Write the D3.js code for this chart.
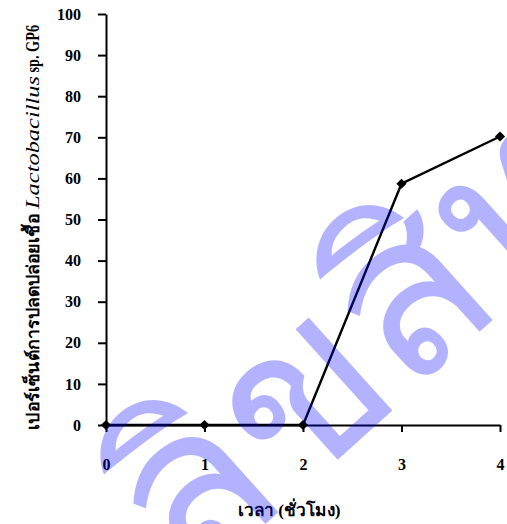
<!DOCTYPE html>
<html lang="th">
<head>
<meta charset="utf-8">
<title>Lactobacillus release</title>
<script src="https://d3js.org/d3.v7.min.js"></script>
<style>
  body { margin: 0; background: #fff; }
</style>
</head>
<body>
<script>
// data
var hours = [0, 1, 2, 3, 4];
var releasePct = [0, 0, 0, 58.7, 70.2];
var yTicks = [0, 10, 20, 30, 40, 50, 60, 70, 80, 90, 100];

var W = 507, H = 524;
var margin = {top: 14, right: 7, bottom: 99, left: 106};
var iw = W - margin.left - margin.right;
var ih = H - margin.top - margin.bottom;
var serif = "'Liberation Serif', 'Times New Roman', serif";

var svg = d3.select("body").append("svg")
    .attr("width", W)
    .attr("height", H);

var g = svg.append("g")
    .attr("transform", "translate(" + margin.left + "," + margin.top + ")");

var x = d3.scaleLinear().domain([0, 4]).range([0, iw]);
var y = d3.scaleLinear().domain([0, 100]).range([ih, 0]);

// y axis
var yAxis = g.append("g")
    .call(d3.axisLeft(y).tickValues(yTicks).tickSize(8).tickPadding(17).tickSizeOuter(0));
yAxis.attr("font-family", serif);
yAxis.select(".domain").attr("stroke-width", 2);
yAxis.selectAll(".tick line").attr("stroke-width", 2);
yAxis.selectAll("text")
    .attr("font-size", 16).attr("font-weight", "bold").attr("fill", "#000");

// x axis
var xAxis = g.append("g")
    .attr("transform", "translate(0," + ih + ")")
    .call(d3.axisBottom(x).tickValues(hours).tickFormat(d3.format("d"))
        .tickSize(7).tickPadding(27).tickSizeOuter(0));
xAxis.attr("font-family", serif);
xAxis.select(".domain").attr("stroke-width", 2);
xAxis.selectAll(".tick line").attr("stroke-width", 2);
xAxis.selectAll("text")
    .attr("font-size", 16).attr("font-weight", "bold").attr("fill", "#000");

// series
var pts = hours.map(function(h, i) { return [h, releasePct[i]]; });
g.append("path")
    .datum(pts)
    .attr("fill", "none")
    .attr("stroke", "#000")
    .attr("stroke-width", 2.4)
    .attr("d", d3.line().x(function(d) { return x(d[0]); }).y(function(d) { return y(d[1]); }));

g.selectAll(".pt")
    .data(pts)
    .enter().append("path")
    .attr("class", "pt")
    .attr("transform", function(d) { return "translate(" + x(d[0]) + "," + y(d[1]) + ") rotate(45)"; })
    .attr("d", d3.symbol().type(d3.symbolSquare).size(52))
    .attr("fill", "#000");

// axis titles
svg.append("text")
    .attr("x", 289)
    .attr("y", 516)
    .attr("text-anchor", "middle")
    .attr("font-size", 17)
    .attr("font-weight", "bold")
    .attr("textLength", 103)
    .attr("lengthAdjust", "spacingAndGlyphs")
    .text("เวลา (ชั่วโมง)");

var yl = svg.append("text")
    .attr("transform", "translate(39,430) rotate(-90)")
    .attr("font-size", 17)
    .attr("font-weight", "bold");
yl.append("tspan")
    .attr("textLength", 216)
    .attr("lengthAdjust", "spacingAndGlyphs")
    .text("เปอร์เซ็นต์การปลดปล่อยเชื้อ");
yl.append("tspan").attr("dx", 5).attr("font-style", "italic").attr("font-weight", "normal")
    .attr("font-family", serif).attr("font-size", 18)
    .attr("textLength", 133).attr("lengthAdjust", "spacingAndGlyphs")
    .text("Lactobacillus");
yl.append("tspan").attr("font-family", serif).attr("font-size", 18)
    .attr("textLength", 51).attr("lengthAdjust", "spacingAndGlyphs")
    .text(" sp. GP6");

// watermark (light blue Thai text laid diagonally over the plot)
var wm = svg.append("text")
    .attr("font-size", 225)
    .attr("fill", "rgb(0,0,255)")
    .attr("fill-opacity", 0.3)
    .style("font-family", "sans-serif")
    .text("ลิขสิทธิ์");
var ext = wm.node().getExtentOfChar(3);
var cx = ext.x + ext.width / 2, cy = ext.y + ext.height / 2;
var ang = -42, rad = ang * Math.PI / 180;
var tx = 406 - (cx * Math.cos(rad) - cy * Math.sin(rad));
var ty = 293 - (cx * Math.sin(rad) + cy * Math.cos(rad));
wm.attr("transform", "translate(" + tx + "," + ty + ") rotate(" + ang + ")");
</script>
</body>
</html>
